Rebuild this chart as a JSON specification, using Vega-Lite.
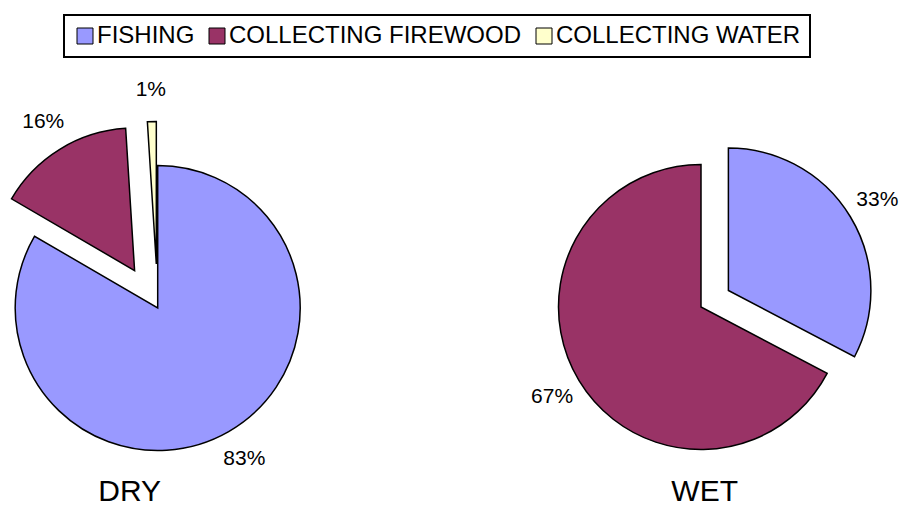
{
  "$schema": "https://vega.github.io/schema/vega-lite/v6.json",
  "width": 899,
  "height": 507,
  "autosize": {"type": "none"},
  "padding": 0,
  "background": "white",
  "config": {"view": {"stroke": null}, "font": "Liberation Sans"},
  "layer": [
    {
      "data": {
        "values": [
          {"season": "DRY", "activity": "FISHING", "share": 0.834},
          {"season": "DRY", "activity": "COLLECTING FIREWOOD", "share": 0.156},
          {"season": "DRY", "activity": "COLLECTING WATER", "share": 0.010},
          {"season": "WET", "activity": "FISHING", "share": 0.327},
          {"season": "WET", "activity": "COLLECTING FIREWOOD", "share": 0.673}
        ]
      },
      "transform": [
        {"window": [{"op": "row_number", "as": "rn"}]},
        {"stack": "share", "groupby": ["season"], "sort": [{"field": "rn", "order": "ascending"}], "as": ["a0", "a1"]},
        {"joinaggregate": [{"op": "max", "field": "share", "as": "mx"}], "groupby": ["season"]},
        {"calculate": "PI*(datum.a0+datum.a1)", "as": "mid"},
        {"calculate": "datum.share < datum.mx ? (datum.season === 'DRY' ? 44 : 32) : 0", "as": "ex"},
        {"calculate": "datum.ex*sin(datum.mid)", "as": "dx"},
        {"calculate": "-datum.ex*cos(datum.mid)", "as": "dy"},
        {"calculate": "datum.dx+174*sin(datum.mid)", "as": "lx"},
        {"calculate": "datum.dy-174*cos(datum.mid)", "as": "ly"}
      ],
      "layer": [
        {
          "mark": {
            "type": "arc",
            "radius": 142.5,
            "stroke": "black",
            "strokeWidth": 1.5,
            "xOffset": {"expr": "datum.dx"},
            "yOffset": {"expr": "datum.dy"}
          },
          "encoding": {
            "x": {"field": "season", "type": "nominal", "scale": {"type": "point", "domain": ["DRY", "WET"], "range": [157.7, 701], "padding": 0}, "axis": null},
            "y": {"field": "season", "type": "nominal", "scale": {"type": "point", "domain": ["DRY", "WET"], "range": [308, 307], "padding": 0}, "axis": null},
            "theta": {"field": "a0", "type": "quantitative", "scale": {"domain": [0, 1], "range": [0, 6.283185307179586]}},
            "theta2": {"field": "a1"},
            "color": {
              "field": "activity",
              "type": "nominal",
              "scale": {"domain": ["FISHING", "COLLECTING FIREWOOD", "COLLECTING WATER"], "range": ["#9999FF", "#993366", "#FFFFCC"]},
              "legend": {
                "orient": "none",
                "legendX": 64,
                "legendY": 15,
                "direction": "horizontal",
                "title": null,
                "strokeColor": "black",
                "padding": 9,
                "symbolType": "square",
                "symbolSize": 256,
                "symbolStrokeColor": "black",
                "symbolStrokeWidth": 1,
                "symbolOpacity": 1,
                "labelFontSize": 24,
                "labelFont": "Liberation Sans",
                "labelColor": "black",
                "labelOffset": 0,
                "columnPadding": 10,
                "labelLimit": 500,
                "encode": {"legend": {"update": {"strokeWidth": {"value": 2}}}}
              }
            }
          }
        },
        {
          "mark": {
            "type": "text",
            "fontSize": 21,
            "font": "Liberation Sans",
            "color": "black",
            "align": "center",
            "baseline": "middle",
            "xOffset": {"expr": "datum.lx"},
            "yOffset": {"expr": "datum.ly"}
          },
          "encoding": {
            "x": {"field": "season", "type": "nominal", "scale": {"type": "point", "domain": ["DRY", "WET"], "range": [157.7, 701], "padding": 0}, "axis": null},
            "y": {"field": "season", "type": "nominal", "scale": {"type": "point", "domain": ["DRY", "WET"], "range": [308, 307], "padding": 0}, "axis": null},
            "text": {"field": "share", "type": "quantitative", "format": ".0%"}
          }
        }
      ]
    },
    {
      "data": {"values": [{"season": "DRY"}, {"season": "WET"}]},
      "mark": {"type": "text", "fontSize": 30, "font": "Liberation Sans", "color": "black", "align": "center", "baseline": "bottom", "y": "height", "dy": 0},
      "encoding": {
        "x": {"field": "season", "type": "nominal", "scale": {"type": "point", "domain": ["DRY", "WET"], "range": [129.7, 704.7], "padding": 0}, "axis": null},
        "text": {"field": "season"}
      }
    }
  ],
  "resolve": {"scale": {"x": "independent", "y": "independent"}}
}
